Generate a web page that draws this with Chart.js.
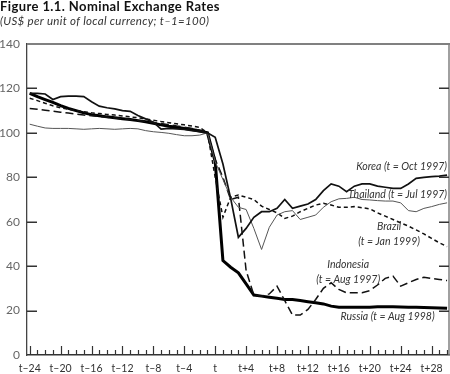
<!DOCTYPE html>
<html>
<head>
<meta charset="utf-8">
<script src="https://cdn.jsdelivr.net/npm/chart.js@4.4.1/dist/chart.umd.min.js"></script>
<style>
  html, body { margin: 0; padding: 0; background: #fff; }
  #wrap { position: relative; width: 450px; height: 374px; }
</style>
</head>
<body>
<div id="wrap"><canvas id="c" width="450" height="374"></canvas></div>
<script>
// ---- data (index relative to crisis month t; t-1 = 100) ----
const months = [];
for (let m = -24; m <= 30; m++) months.push(m);

const korea = [117.8,117.8,117.5,115,116.3,116.5,116.5,116.3,114,112,111.3,110.8,110,109.7,107.8,106.3,104.8,101.7,102,101.8,101.5,101,100.5,100,
  98,86,70.5,53,57,62,64.5,64.5,66,70,66,67,68,70,74,77,76,73.5,76,77,77,76,75.5,75,75,77,79.5,80,80.3,80.5,81];
const thailand = [103.9,103,102.2,102,102,102,101.8,101.6,101.8,102,101.8,101.6,101.8,102,101.8,101,100.5,100.2,99.8,99.2,98.7,98.7,99,100,
  87,79,71,66.5,65.5,57,47.5,57.5,63,64.5,65,61,62,63,66.5,69,70.3,70.5,71,70,69.8,69.5,69.3,69.3,68.5,65,64.5,66,66.8,67.8,68.5];
const brazil = [115.6,114.5,113.3,112.2,111.3,110.6,110,109.5,109,108.7,108.3,108,107.6,107.2,106.8,106.3,105.7,105.1,104.6,104.1,103.6,103.1,102.5,100,
  80,62,71,72,71,70,67,65.5,64,61.5,62.5,64.5,66,67.5,68.3,67.5,66.5,66.5,66.8,66.3,65.8,64,62.5,61,59.5,58,56.3,54.5,52.5,50.5,48.8];
const indonesia = [111,110.6,110.2,109.8,109.3,108.9,108.5,108,107.7,107.4,107,106.7,106.3,106,105.6,105.2,104.7,104.2,103.7,103.1,102.6,102,101.2,100,
  88,80,70,71,38,27,26.5,27.5,31,24.5,18,18,20.5,25,30,32.5,29.5,28,28,28,29,31.5,34.5,35.5,31,32.5,34,35,34.5,34,33.5];
const russia = [117.8,116.3,115,113.7,112.3,111,110,109,108.2,107.7,107.2,106.8,106.4,106,105.5,105,104.3,103.6,103,102.5,102,101.5,100.8,100,
  87,42.5,39.5,37,32,27,26.5,26,25.5,25,25,24.5,24,23.5,23,22,21.5,21.5,21.5,21.5,21.5,21.7,21.7,21.7,21.6,21.5,21.5,21.4,21.3,21.2,21];

const seriesNames = ['Korea', 'Thailand', 'Brazil', 'Indonesia', 'Russia'];
const yTicks = [0, 20, 40, 60, 80, 100, 120, 140];
const xTickValues = [-24, -20, -16, -12, -8, -4, 0, 4, 8, 12, 16, 20, 24, 28];

const titleText = 'Figure 1.1. Nominal Exchange Rates';
const subtitleText = '(US$ per unit of local currency; t\u20131=100)';

// label anchors in data units [month, value]
const seriesLabels = [
  { lines: ['Korea (t = Oct 1997)'], x: 30, y: 85, align: 'right' },
  { lines: ['Thailand (t = Jul 1997)'], x: 30, y: 72, align: 'right' },
  { lines: ['Brazil', '(t = Jan 1999)'], x: 22.5, y: 57.6, align: 'center' },
  { lines: ['Indonesia', '(t = Aug 1997)'], x: 17.2, y: 40.5, align: 'center' },
  { lines: ['Russia (t = Aug 1998)'], x: 22.3, y: 17.1, align: 'center' }
];

const FONT = 'Lato, "Open Sans", sans-serif';

function pts(arr) { return arr.map((v, i) => ({ x: months[i], y: v })); }

function fmtMonth(v) {
  if (v === 0) return 't';
  return v > 0 ? 't+' + v : 't\u2013' + (-v);
}

const framePlugin = {
  id: 'frame',
  afterDraw(chart) {
    const ctx = chart.ctx;
    const a = chart.chartArea;
    const xs = chart.scales.x, ys = chart.scales.y;
    ctx.save();
    // top & right border
    ctx.strokeStyle = '#808080';
    ctx.lineWidth = 2;
    ctx.beginPath(); ctx.moveTo(a.left, a.top); ctx.lineTo(a.right + 1, a.top); ctx.stroke();
    ctx.lineWidth = 1.5;
    ctx.beginPath(); ctx.moveTo(a.right, a.top); ctx.lineTo(a.right, a.bottom); ctx.stroke();
    // inward y ticks on both sides
    ctx.strokeStyle = '#333';
    ctx.lineWidth = 1.5;
    yTicks.forEach(v => {
      if (v === 0 || v === 140) return;
      const py = Math.round(ys.getPixelForValue(v)) + 0.25;
      ctx.beginPath(); ctx.moveTo(a.left, py); ctx.lineTo(a.left + 10, py); ctx.stroke();
      ctx.beginPath(); ctx.moveTo(a.right - 10, py); ctx.lineTo(a.right, py); ctx.stroke();
    });
    // inward x ticks every month, longer every 4 months
    ctx.lineWidth = 1.2;
    months.forEach(m => {
      const px = Math.round(xs.getPixelForValue(m)) + 0.5;
      const len = (m % 4 === 0) ? 9 : 5;
      ctx.beginPath(); ctx.moveTo(px, a.bottom); ctx.lineTo(px, a.bottom - len); ctx.stroke();
    });
    // titles
    ctx.fillStyle = '#111';
    ctx.textAlign = 'left';
    ctx.textBaseline = 'alphabetic';
    ctx.font = 'bold 13px ' + FONT;
    try { ctx.letterSpacing = '0.4px'; } catch (e) {}
    ctx.fillText(titleText, 0, 11);
    ctx.fillStyle = '#333';
    ctx.font = 'italic 11.5px ' + FONT;
    try { ctx.letterSpacing = '0.3px'; } catch (e) {}
    ctx.fillText(subtitleText, 0, 25);
    try { ctx.letterSpacing = '0px'; } catch (e) {}
    // series labels
    ctx.font = 'italic 10.5px ' + FONT;
    ctx.fillStyle = '#333';
    ctx.textBaseline = 'middle';
    seriesLabels.forEach(l => {
      const px = xs.getPixelForValue(l.x);
      const py = ys.getPixelForValue(l.y);
      ctx.textAlign = l.align;
      l.lines.forEach((t, i) => ctx.fillText(t, px, py + i * 14.5));
    });
    ctx.restore();
  }
};

const styles = [
  { data: korea, color: '#111', width: 1.7, dash: [] },
  { data: thailand, color: '#555', width: 1, dash: [] },
  { data: brazil, color: '#111', width: 1.5, dash: [4, 3] },
  { data: indonesia, color: '#111', width: 1.5, dash: [8, 4] },
  { data: russia, color: '#000', width: 3, dash: [] }
];

new Chart(document.getElementById('c'), {
  type: 'line',
  data: {
    datasets: styles.map((s, i) => ({
      label: seriesNames[i],
      data: pts(s.data),
      borderColor: s.color,
      borderWidth: s.width,
      borderDash: s.dash,
      pointRadius: 0,
      tension: 0,
      fill: false
    }))
  },
  options: {
    responsive: false,
    animation: false,
    devicePixelRatio: 1,
    layout: { padding: { top: 44, right: 1, left: 0, bottom: 0 } },
    plugins: { legend: { display: false }, tooltip: { enabled: false }, title: { display: false } },
    scales: {
      x: {
        type: 'linear',
        min: -24.35,
        max: 30.25,
        afterFit(s) { s.height = 19; },
        afterBuildTicks(s) { s.ticks = xTickValues.map(v => ({ value: v })); },
        grid: { display: false, drawTicks: false },
        border: { display: true, color: '#333', width: 1.5 },
        ticks: {
          autoSkip: false,
          maxRotation: 0,
          padding: 7,
          color: '#333',
          font: { family: FONT, size: 10.5 },
          callback: v => fmtMonth(v)
        }
      },
      y: {
        min: 0,
        max: 140,
        afterFit(s) { s.width = 27; },
        afterBuildTicks(s) { s.ticks = yTicks.map(v => ({ value: v })); },
        grid: { display: false, drawTicks: false },
        border: { display: true, color: '#444', width: 1.3 },
        ticks: {
          padding: 7,
          color: '#666',
          font: { family: FONT, size: 12 }
        }
      }
    }
  },
  plugins: [framePlugin]
});
</script>
</body>
</html>
